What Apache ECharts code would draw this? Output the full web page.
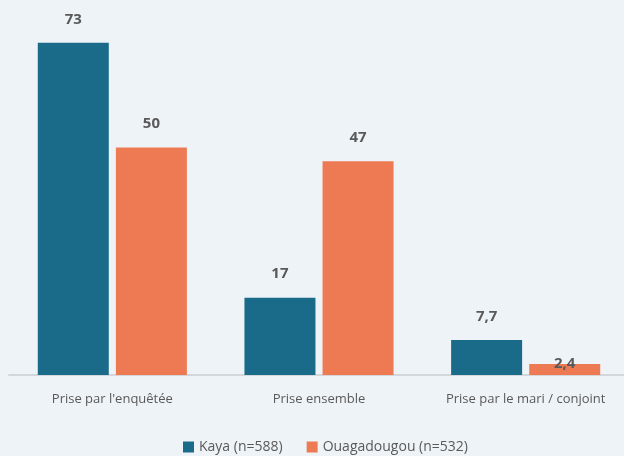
<!DOCTYPE html>
<html>
<head>
<meta charset="utf-8">
<script src="https://cdn.jsdelivr.net/npm/echarts@6/dist/echarts.min.js"></script>
<style>
  html, body { margin: 0; padding: 0; background: #eef3f8; }
  #chart { width: 624px; height: 456px; }
</style>
</head>
<body>
<div id="chart"></div>
<script>
// catégories de l'axe x
const categories = ["Prise par l'enquêtée", 'Prise ensemble', 'Prise par le mari / conjoint'];
// noms des séries (légende)
const seriesNames = ['Kaya (n=588)', 'Ouagadougou (n=532)'];
// valeurs en %
const kayaValues = [73, 17, 7.7];
const ouagaValues = [50, 47, 2.4];

const colors = ['#1a6b89', '#ed7a52'];
const fontFamily = '"Open Sans", sans-serif';

// étiquette au-dessus de la barre, virgule décimale
function barLabel(){
  return {
    show: true,
    position: 'top',
    distance: 16,
    color: '#595959',
    fontWeight: 'bold',
    fontSize: 15,
    fontFamily: fontFamily,
    formatter: p => String(p.value).replace('.', ',')
  };
}

// la petite barre 2,4 : étiquette posée sur le haut de la barre
const ouagaData = ouagaValues.map(v => v < 5 ? { value: v, label: { distance: -7 } } : v);

const chart = echarts.init(document.getElementById('chart'), null, { renderer: 'canvas' });

chart.setOption({
  backgroundColor: '#eef3f8',
  animation: false,
  color: colors,
  grid: { left: 9, right: -5, top: 11, bottom: 81, outerBoundsMode: 'none' },
  legend: {
    data: seriesNames,
    left: 178,
    top: 435,
    icon: 'rect',
    itemWidth: 11,
    itemHeight: 11,
    itemGap: 24,
    textStyle: { color: '#595959', fontSize: 14, fontFamily: fontFamily }
  },
  xAxis: {
    type: 'category',
    data: categories,
    axisLine: { lineStyle: { color: '#d3d7db', width: 2 } },
    axisTick: { show: false },
    axisLabel: { color: '#595959', fontSize: 13, fontFamily: fontFamily, margin: 18, interval: 0 }
  },
  yAxis: {
    type: 'value',
    min: 0,
    max: 80,
    show: false,
    splitLine: { show: false }
  },
  series: [
    {
      name: seriesNames[0],
      type: 'bar',
      barWidth: 71,
      barGap: '10%',
      data: kayaValues,
      label: barLabel()
    },
    {
      name: seriesNames[1],
      type: 'bar',
      barWidth: 71,
      barGap: '10%',
      data: ouagaData,
      label: barLabel()
    }
  ]
});
</script>
</body>
</html>
